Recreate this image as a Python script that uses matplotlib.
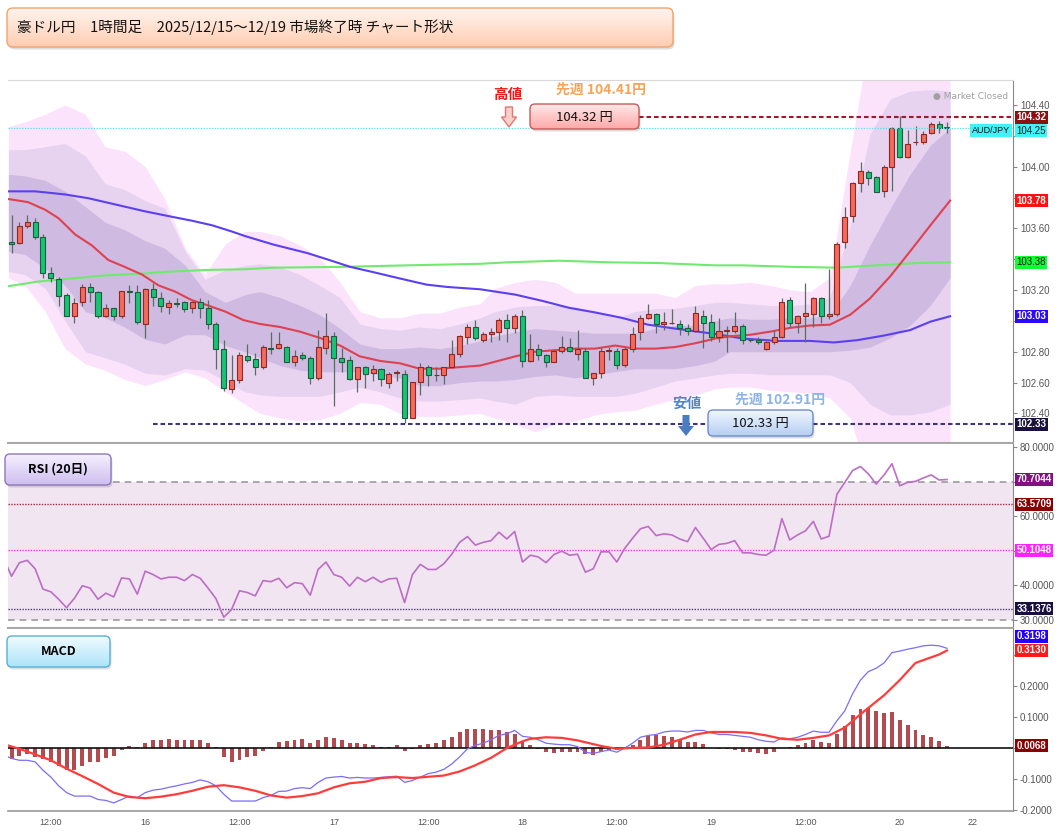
import numpy as np
import matplotlib
matplotlib.use("Agg")
import matplotlib.pyplot as plt
import matplotlib.transforms as mtransforms
from matplotlib.patches import FancyBboxPatch, Polygon
from matplotlib.colors import LinearSegmentedColormap

plt.rcParams["font.family"] = ["Noto Sans CJK JP", "DejaVu Sans"]

W, H = 1061, 831
TITLE = "豪ドル円　1時間足　2025/12/15～12/19 市場終了時 チャート形状"

# hourly candles 12/15 07:00 -> 12/20 06:00, x = candle index 0..119
opens = [103.514, 103.507, 103.615, 103.639, 103.546, 103.313, 103.272, 103.168, 103.034, 103.125,
         103.218, 103.190, 103.034, 103.086, 103.034, 103.190, 103.185, 102.982, 103.207, 103.146,
         103.092, 103.114, 103.125, 103.086, 103.125, 103.086, 102.978, 102.816, 102.558, 102.617,
         102.774, 102.753, 102.703, 102.822, 102.822, 102.833, 102.736, 102.779, 102.762, 102.632,
         102.822, 102.902, 102.762, 102.744, 102.623, 102.703, 102.664, 102.686, 102.595, 102.664,
         102.658, 102.373, 102.606, 102.703, 102.649, 102.649, 102.703, 102.783, 102.898, 102.963,
         102.876, 102.913, 102.926, 103.006, 102.952, 103.032, 102.740, 102.816, 102.779, 102.736,
         102.805, 102.833, 102.783, 102.805, 102.632, 102.660, 102.805, 102.805, 102.714, 102.816,
         102.926, 103.017, 103.043, 102.978, 102.984, 102.980, 102.952, 102.937, 103.032, 102.995,
         102.898, 102.937, 102.937, 102.967, 102.876, 102.874, 102.818, 102.861, 102.898, 103.135,
         102.984, 103.032, 103.043, 103.146, 103.032, 103.043, 103.510, 103.683, 103.892, 103.963,
         103.931, 103.842, 104.000, 104.253, 104.065, 104.158, 104.158, 104.216, 104.275, 104.253]
highs = [103.687, 103.643, 103.687, 103.665, 103.564, 103.352, 103.287, 103.179, 103.146, 103.237,
         103.244, 103.194, 103.107, 103.086, 103.194, 103.233, 103.233, 103.215, 103.244, 103.185,
         103.135, 103.146, 103.129, 103.129, 103.146, 103.135, 102.990, 102.876, 102.779, 102.800,
         102.848, 102.790, 102.844, 102.926, 102.926, 102.840, 102.811, 102.800, 102.774, 102.941,
         103.049, 102.926, 102.822, 102.774, 102.703, 102.710, 102.714, 102.692, 102.666, 102.680,
         102.682, 102.606, 102.725, 102.714, 102.703, 102.703, 102.876, 102.908, 102.978, 103.006,
         102.930, 102.956, 103.017, 103.043, 103.043, 103.071, 102.913, 102.848, 102.783, 102.811,
         102.904, 102.891, 102.941, 102.822, 102.664, 102.833, 102.833, 102.822, 102.833, 102.963,
         103.038, 103.108, 103.049, 103.056, 103.075, 103.006, 102.978, 103.097, 103.071, 103.043,
         103.017, 102.969, 103.056, 102.978, 102.890, 102.898, 102.870, 102.941, 103.146, 103.157,
         103.038, 103.244, 103.157, 103.157, 103.337, 103.510, 103.737, 103.903, 104.028, 103.979,
         103.942, 104.011, 104.260, 104.329, 104.238, 104.266, 104.232, 104.292, 104.296, 104.290]
lows = [103.438, 103.501, 103.605, 103.529, 103.276, 103.250, 103.099, 103.032, 102.984, 103.099,
        103.120, 103.021, 103.027, 103.006, 103.021, 103.114, 102.978, 102.887, 103.099, 103.056,
        103.047, 103.092, 103.060, 103.049, 103.021, 102.945, 102.688, 102.545, 102.530, 102.600,
        102.736, 102.649, 102.688, 102.783, 102.818, 102.736, 102.710, 102.746, 102.589, 102.617,
        102.783, 102.450, 102.666, 102.617, 102.541, 102.567, 102.610, 102.580, 102.567, 102.610,
        102.336, 102.373, 102.519, 102.580, 102.610, 102.589, 102.692, 102.768, 102.852, 102.876,
        102.865, 102.861, 102.876, 102.865, 102.919, 102.703, 102.736, 102.746, 102.703, 102.731,
        102.790, 102.800, 102.746, 102.628, 102.584, 102.628, 102.746, 102.688, 102.703, 102.800,
        102.876, 103.012, 102.919, 102.941, 102.980, 102.909, 102.909, 102.930, 102.822, 102.870,
        102.865, 102.800, 102.919, 102.848, 102.865, 102.848, 102.811, 102.848, 102.891, 102.963,
        102.919, 102.865, 102.963, 102.984, 103.010, 103.034, 103.475, 103.644, 103.834, 103.881,
        103.834, 103.806, 103.842, 104.058, 104.058, 104.141, 104.145, 104.210, 104.216, 104.220]
closes = [103.497, 103.615, 103.639, 103.546, 103.308, 103.276, 103.164, 103.034, 103.114, 103.218,
          103.190, 103.034, 103.086, 103.034, 103.194, 103.188, 102.991, 103.207, 103.153, 103.097,
          103.114, 103.112, 103.075, 103.125, 103.086, 102.978, 102.816, 102.567, 102.617, 102.779,
          102.746, 102.703, 102.833, 102.820, 102.848, 102.736, 102.774, 102.762, 102.632, 102.833,
          102.902, 102.762, 102.736, 102.623, 102.703, 102.658, 102.686, 102.623, 102.658, 102.666,
          102.373, 102.606, 102.703, 102.649, 102.651, 102.703, 102.783, 102.904, 102.963, 102.887,
          102.913, 102.926, 103.006, 102.952, 103.032, 102.740, 102.816, 102.779, 102.736, 102.805,
          102.833, 102.805, 102.816, 102.632, 102.664, 102.805, 102.807, 102.714, 102.816, 102.913,
          103.017, 103.043, 102.978, 102.995, 102.986, 102.952, 102.937, 103.053, 102.984, 102.898,
          102.937, 102.939, 102.967, 102.876, 102.874, 102.861, 102.865, 102.898, 103.125, 102.984,
          103.032, 103.053, 103.146, 103.032, 103.043, 103.497, 103.676, 103.892, 103.972, 103.925,
          103.838, 104.000, 104.253, 104.065, 104.145, 104.160, 104.212, 104.275, 104.253, 104.251]

# moving averages
ma_red_x = [-0.4, 2.1, 4.3, 6.0, 8.1, 10.2, 12.3, 14.4, 16.6, 18.7, 20.8, 22.9, 25.0, 27.2, 29.5,
            31.6, 34.2, 36.7, 39.2, 41.8, 44.3, 46.9, 49.4, 51.9, 54.5, 57.0, 59.6,
            61.5, 64.1, 66.6, 69.2, 71.7, 74.2, 76.8, 79.3, 81.9, 84.4, 87.0, 89.5,
            91.4, 94.0, 96.5, 99.1, 101.6, 104.1, 106.7, 109.2, 111.8, 114.3, 116.9, 119.4]
ma_red = [103.79, 103.77, 103.72, 103.665, 103.56, 103.49, 103.395, 103.35, 103.30, 103.23, 103.19,
          103.135, 103.10, 103.06, 103.005,
          102.98, 102.96, 102.93, 102.89, 102.84, 102.77, 102.74, 102.725, 102.69, 102.69, 102.70, 102.71,
          102.735, 102.77, 102.80, 102.81, 102.82, 102.82, 102.84, 102.82, 102.82, 102.83, 102.855, 102.885,
          102.90, 102.91, 102.93, 102.955, 102.97, 102.975, 103.04, 103.145, 103.29, 103.45, 103.62, 103.78]
ma_blue_x = [-0.4, 3.0, 6.8, 9.8, 13.2, 17.0, 20.4, 22.9, 25.5, 28.0, 29.7,
             33.3, 37.6, 40.1, 43.1, 46.1, 49.4, 52.8, 55.4, 59.6,
             64.1, 67.5, 70.9, 74.2, 77.6, 81.0, 84.4, 89.5,
             93.1, 97.4, 101.6, 104.6, 107.6, 111.0, 114.3, 116.9, 119.4]
ma_blue = [103.84, 103.84, 103.82, 103.795, 103.755, 103.71, 103.675, 103.65, 103.62, 103.58, 103.55,
           103.495, 103.44, 103.40, 103.35, 103.315, 103.275, 103.235, 103.22, 103.205,
           103.17, 103.13, 103.085, 103.055, 103.02, 102.975, 102.95, 102.915,
           102.885, 102.87, 102.87, 102.86, 102.875, 102.905, 102.94, 102.995, 103.03]
ma_green_x = [-0.4, 3.4, 7.7, 12.0, 16.2, 20.4, 24.7, 29.8, 33.3, 41.8, 50.3, 59.6,
              63.2, 69.6, 75.9, 82.3, 89.5, 93.1, 99.5, 105.0, 110.1, 115.2, 119.4]
ma_green = [103.225, 103.255, 103.275, 103.295, 103.305, 103.32, 103.33, 103.335, 103.345, 103.35,
            103.36, 103.37, 103.38, 103.39, 103.38, 103.375, 103.36, 103.36, 103.35, 103.345,
            103.36, 103.375, 103.38]

# bollinger layers (inner / middle / outer edges)
bb_x = [-0.4, 1.7, 4.3, 6.8, 9.4, 11.9, 14.4, 17.0, 19.5, 22.1, 24.6, 27.2, 29.7,
        31.6, 34.2, 36.7, 39.2, 41.8, 44.3, 46.9, 49.4, 51.9, 54.5, 57.0, 59.6,
        61.5, 64.1, 66.6, 69.2, 71.7, 74.2, 76.8, 79.3, 81.9, 84.4, 87.0, 89.5,
        91.4, 94.0, 96.5, 99.1, 101.6, 104.1, 106.7, 109.2, 111.8, 114.3, 116.9, 119.4]
bb3_hi = [104.26, 104.29, 104.34, 104.40, 104.34, 104.13, 104.10, 104.00, 103.79, 103.47, 103.30, 103.50, 103.58,
          103.58, 103.55, 103.49, 103.41, 103.25, 103.06, 103.02, 103.02, 103.05, 103.05, 103.09, 103.11,
          103.21, 103.25, 103.27, 103.25, 103.18, 103.18, 103.18, 103.18, 103.18, 103.15, 103.23, 103.24,
          103.24, 103.25, 103.23, 103.20, 103.19, 103.28, 104.10, 104.85, 105.18, 105.39, 105.50, 105.61]
bb2_hi = [104.11, 104.11, 104.13, 104.15, 104.07, 103.89, 103.85, 103.78, 103.73, 103.45, 103.27, 103.33, 103.36,
          103.37, 103.35, 103.30, 103.23, 103.15, 102.98, 102.95, 102.94, 102.96, 102.95, 102.98, 103.02,
          103.06, 103.09, 103.10, 103.10, 103.09, 103.06, 103.02, 103.06, 103.08, 103.08, 103.10, 103.12,
          103.12, 103.11, 103.10, 103.10, 103.11, 103.15, 103.62, 104.21, 104.44, 104.49, 104.50, 104.49]
bb1_hi = [103.95, 103.94, 103.91, 103.84, 103.74, 103.64, 103.59, 103.52, 103.47, 103.36, 103.19, 103.12, 103.17,
          103.19, 103.15, 103.10, 103.04, 102.95, 102.85, 102.82, 102.82, 102.83, 102.82, 102.84, 102.87,
          102.90, 102.93, 102.95, 102.94, 102.93, 102.92, 102.92, 102.92, 102.95, 102.97, 102.97, 103.00,
          103.02, 103.01, 103.01, 103.02, 103.02, 103.04, 103.23, 103.49, 103.73, 103.95, 104.14, 104.25]
bb1_lo = [103.45, 103.43, 103.34, 103.23, 103.06, 103.02, 102.96, 102.88, 102.85, 102.91, 102.91, 102.84, 102.80,
          102.76, 102.71, 102.68, 102.67, 102.67, 102.67, 102.65, 102.63, 102.58, 102.58, 102.60, 102.61,
          102.61, 102.62, 102.64, 102.65, 102.63, 102.65, 102.67, 102.69, 102.69, 102.69, 102.71, 102.74,
          102.80, 102.80, 102.80, 102.80, 102.80, 102.80, 102.81, 102.83, 102.89, 102.97, 103.10, 103.28]
bb2_lo = [103.32, 103.30, 103.21, 103.00, 102.80, 102.76, 102.72, 102.66, 102.65, 102.69, 102.68, 102.61, 102.54,
          102.52, 102.51, 102.51, 102.51, 102.54, 102.57, 102.54, 102.50, 102.48, 102.48, 102.49, 102.50,
          102.48, 102.46, 102.51, 102.52, 102.51, 102.51, 102.51, 102.53, 102.57, 102.61, 102.63, 102.65,
          102.66, 102.66, 102.65, 102.65, 102.65, 102.65, 102.60, 102.46, 102.39, 102.39, 102.41, 102.46]
bb3_lo = [103.28, 103.23, 103.06, 102.82, 102.72, 102.68, 102.62, 102.58, 102.62, 102.67, 102.63, 102.54, 102.46,
          102.40, 102.37, 102.35, 102.36, 102.40, 102.47, 102.46, 102.40, 102.38, 102.38, 102.39, 102.40,
          102.37, 102.33, 102.28, 102.33, 102.35, 102.39, 102.41, 102.42, 102.46, 102.49, 102.52, 102.56,
          102.57, 102.57, 102.55, 102.54, 102.53, 102.50, 102.37, 101.94, 101.72, 101.72, 101.72, 101.72]

# RSI(20), index -1..119
rsi = [47.84, 42.62, 46.56, 47.24, 44.79, 38.89, 38.10, 35.94, 33.48, 36.23, 39.87,
       39.18, 35.94, 37.71, 36.63, 42.13, 41.84, 37.41, 44.10, 43.12, 41.84,
       42.33, 42.33, 41.35, 43.12, 42.04, 39.18, 36.14, 30.73, 33.00, 38.40,
       37.90, 36.92, 41.35, 41.05, 42.04, 39.28, 40.76, 40.46, 37.12, 44.59,
       46.75, 43.12, 42.33, 39.77, 42.33, 41.05, 42.33, 40.85, 41.84, 42.04,
       34.96, 43.12, 46.07, 44.59, 44.59, 46.26, 49.02, 52.46, 54.13, 51.67,
       52.46, 52.95, 55.41, 53.44, 55.60, 46.75, 48.72, 48.23, 46.56, 48.92,
       49.90, 48.72, 49.02, 43.80, 44.79, 49.71, 49.71, 46.75, 50.69, 53.64,
       56.39, 57.08, 54.42, 54.92, 54.62, 53.44, 52.65, 56.78, 53.64, 50.39,
       51.87, 52.16, 52.95, 49.41, 49.41, 48.92, 48.72, 50.20, 59.34, 53.15,
       54.62, 55.80, 58.55, 53.44, 54.23, 66.42, 69.86, 73.30, 74.48, 72.32,
       69.37, 72.03, 75.27, 68.88, 69.86, 70.16, 71.14, 72.03, 70.55, 70.70]
rsi_levels = [70.7044, 63.5709, 50.1048, 33.1376]

# MACD line, index -1..119
macd = [-0.023, -0.034, -0.040, -0.040, -0.045, -0.072, -0.094, -0.122, -0.144, -0.155, -0.155,
        -0.155, -0.166, -0.169, -0.177, -0.166, -0.155, -0.160, -0.144, -0.136, -0.133,
        -0.127, -0.122, -0.116, -0.111, -0.103, -0.109, -0.122, -0.149, -0.171, -0.171,
        -0.171, -0.171, -0.160, -0.153, -0.140, -0.139, -0.131, -0.128, -0.131, -0.111,
        -0.097, -0.094, -0.092, -0.097, -0.095, -0.097, -0.097, -0.095, -0.093, -0.091,
        -0.111, -0.105, -0.094, -0.083, -0.078, -0.069, -0.052, -0.029, -0.003, 0.008,
        0.015, 0.026, 0.040, 0.045, 0.056, 0.037, 0.034, 0.026, 0.015, 0.012,
        0.010, 0.010, 0.004, -0.014, -0.018, -0.012, -0.007, -0.014, -0.001, 0.015,
        0.034, 0.040, 0.043, 0.051, 0.054, 0.054, 0.051, 0.056, 0.056, 0.048,
        0.043, 0.043, 0.040, 0.037, 0.034, 0.026, 0.021, 0.019, 0.032, 0.029,
        0.034, 0.043, 0.054, 0.050, 0.050, 0.087, 0.119, 0.174, 0.218, 0.245,
        0.256, 0.273, 0.306, 0.311, 0.317, 0.322, 0.328, 0.330, 0.328, 0.320]
sig_x = [-0.5, 1, 3, 5, 7, 9, 11, 13, 15, 17, 19, 21, 23, 25, 27, 29, 31, 33, 35, 37, 39, 41, 43,
         45, 47, 49, 51, 53, 55, 57, 59, 61, 63, 65, 66, 68, 70, 72, 75, 77, 79, 81, 83, 85, 87,
         89, 92, 94, 96, 98, 100, 102, 104, 106, 108, 111, 113, 115, 118, 119]
signal = [0.008, -0.003, -0.021, -0.040, -0.067, -0.091, -0.116, -0.144, -0.158, -0.162, -0.157,
          -0.149, -0.138, -0.125, -0.120, -0.127, -0.138, -0.153, -0.160, -0.155, -0.146, -0.127,
          -0.114, -0.109, -0.097, -0.094, -0.097, -0.093, -0.089, -0.076, -0.056, -0.032, -0.001,
          0.021, 0.029, 0.034, 0.032, 0.024, 0.006, -0.003, 0.000, 0.001, 0.010, 0.026, 0.043,
          0.051, 0.051, 0.048, 0.040, 0.029, 0.026, 0.032, 0.040, 0.065, 0.108, 0.169, 0.218,
          0.273, 0.300, 0.313]
hist = [-0.037, -0.026, -0.021, -0.029, -0.037, -0.047, -0.058, -0.072, -0.072, -0.059,
        -0.047, -0.045, -0.034, -0.026, -0.008, 0.006, 0.004, 0.017, 0.024, 0.024,
        0.027, 0.026, 0.024, 0.024, 0.024, 0.015, 0.002, -0.031, -0.045, -0.039,
        -0.031, -0.026, -0.010, 0.004, 0.019, 0.022, 0.024, 0.027, 0.015, 0.024,
        0.036, 0.031, 0.026, 0.015, 0.015, 0.012, 0.010, 0.004, 0.004, 0.008,
        -0.010, -0.004, 0.008, 0.012, 0.015, 0.024, 0.034, 0.051, 0.062, 0.062,
        0.059, 0.057, 0.057, 0.051, 0.045, 0.023, 0.008, -0.003, -0.014, -0.018,
        -0.014, -0.014, -0.012, -0.021, -0.023, -0.014, -0.007, -0.007, -0.003, 0.008,
        0.025, 0.038, 0.040, 0.038, 0.034, 0.026, 0.019, 0.019, 0.012, 0.001,
        -0.003, -0.005, -0.007, -0.012, -0.014, -0.018, -0.021, -0.014, 0.000, 0.004,
        0.010, 0.015, 0.025, 0.019, 0.015, 0.043, 0.070, 0.105, 0.125, 0.128,
        0.117, 0.111, 0.114, 0.090, 0.073, 0.057, 0.040, 0.034, 0.021, 0.007]

tick_idx = [5, 17, 29, 41, 53, 65, 77, 89, 101, 113, 122.3]
tick_lbl = ["12:00", "16", "12:00", "17", "12:00", "18", "12:00", "19", "12:00", "20", "22"]

high_val, low_val, last_val = 104.32, 102.33, 104.25

fig = plt.figure(figsize=(W / 100, H / 100), dpi=100)


def frac(x0, y0, x1, y1):
    return [x0 / W, 1 - y1 / H, (x1 - x0) / W, (y1 - y0) / H]


ax = fig.add_axes(frac(8, 80, 1013, 443))
ax_rsi = fig.add_axes(frac(8, 444, 1013, 628))
ax_macd = fig.add_axes(frac(8, 629, 1013, 811))
XL = (-0.45, 127.4)
NUM = "Liberation Sans"

for a in (ax, ax_rsi, ax_macd):
    a.set_xlim(*XL)
    a.spines["left"].set_visible(False)
    a.spines["right"].set_color("#888888")
    a.yaxis.tick_right()
    a.tick_params(axis="y", length=3, width=0.8, color="#888888", pad=2)
    a.tick_params(axis="x", length=0)
ax.spines["top"].set_color("#d8d8d8")
ax.spines["bottom"].set_color("#a8a8a8")
ax.spines["bottom"].set_linewidth(1.5)
ax_rsi.spines["top"].set_visible(False)
ax_rsi.spines["bottom"].set_color("#a8a8a8")
ax_rsi.spines["bottom"].set_linewidth(1.5)
ax_macd.spines["top"].set_visible(False)
ax_macd.spines["bottom"].set_color("#999999")
ax_macd.spines["bottom"].set_linewidth(1.2)
ax.set_xticks([])
ax_rsi.set_xticks([])


def tick_text(vals, fmt, hidden):
    # the value tags sit on top of these tick labels in the reference
    return ["" if any(abs(v - h) < 1e-9 for h in hidden) else fmt.format(v) for v in vals]


# ---- price panel
ax.set_ylim(102.208, 104.562)
pt = np.round(np.arange(102.4, 104.41, 0.2), 2)
ax.set_yticks(pt, labels=tick_text(pt, "{:.2f}", [103.0, 103.4, 103.8, 104.2]),
              fontsize=7, color="#555555", fontfamily=NUM)

ax.fill_between(bb_x, bb3_lo, bb3_hi, color="#fce3fc", lw=0, zorder=1)
ax.fill_between(bb_x, bb2_lo, bb2_hi, color="#e7d2f0", lw=0, zorder=1.1)
ax.fill_between(bb_x, bb1_lo, bb1_hi, color="#cfbae2", lw=0, zorder=1.2)

ax.plot(ma_green_x, ma_green, color="#6fea6f", lw=1.5, zorder=3)
ax.plot(ma_blue_x, ma_blue, color="#5b3ff2", lw=1.5, zorder=3)
ax.plot(ma_red_x, ma_red, color="#e0414f", lw=1.5, zorder=3)

idx = np.arange(len(opens))
o, c = np.array(opens), np.array(closes)
hi, lo = np.array(highs), np.array(lows)
up = c >= o
body_lo = np.minimum(o, c)
body_h = np.maximum(np.abs(c - o), 0.003)
ax.vlines(idx, lo, hi, color="#5a6b60", lw=0.9, zorder=4)
ax.bar(idx[up], body_h[up], bottom=body_lo[up], width=0.64, color="#f56a5c",
       edgecolor="#8c2a22", lw=0.8, zorder=5)
ax.bar(idx[~up], body_h[~up], bottom=body_lo[~up], width=0.64, color="#17c476",
       edgecolor="#1c5e3c", lw=0.8, zorder=5)

ax.hlines(last_val, XL[0], XL[1], colors="#4fe3f0", linestyles=(0, (1, 1.2)), lw=0.9, zorder=6)
ax.hlines(high_val, 79.8, XL[1], colors="#a3182c", linestyles=(0, (2.2, 1.4)), lw=1.5, zorder=6)
ax.hlines(low_val, 18.0, XL[1], colors="#3e3678", linestyles=(0, (2.2, 1.4)), lw=1.5, zorder=6)


def tag(axis, val, text, fc, tc="white", dy=0.0, fw="bold"):
    tr = mtransforms.blended_transform_factory(axis.transAxes, axis.transData)
    axis.annotate(text, xy=(1, val), xycoords=tr, xytext=(2.5, dy), textcoords="offset points",
                  ha="left", va="center", fontsize=7, color=tc, fontweight=fw, fontfamily=NUM,
                  bbox=dict(boxstyle="square,pad=0.15", fc=fc, ec="none"),
                  annotation_clip=False, zorder=20)


tag(ax, high_val, "104.32", "#8b1212")
tag(ax, last_val, "104.25", "#3ef4f7", tc="#1a1a1a", dy=-2, fw="normal")
tag(ax, ma_red[-1], "103.78", "#ff1010")
tag(ax, ma_green[-1], "103.38", "#10ff30", tc="#111111", fw="normal")
tag(ax, ma_blue[-1], "103.03", "#2a0aff")
tag(ax, low_val, "102.33", "#1b1140")
tr_main = mtransforms.blended_transform_factory(ax.transAxes, ax.transData)
ax.annotate("AUD/JPY", xy=(1, last_val), xycoords=tr_main, xytext=(-2, -1.5),
            textcoords="offset points", ha="right", va="center", fontsize=6.5,
            fontfamily=NUM, color="#111111",
            bbox=dict(boxstyle="square,pad=0.2", fc="#3ef4f7", ec="none"), zorder=20)

# ---- RSI panel
ax_rsi.set_ylim(27.6, 81.0)
rt = [30, 40, 50, 60, 70, 80]
ax_rsi.set_yticks(rt, labels=tick_text(rt, "{:.4f}", [50, 70]),
                  fontsize=7, color="#555555", fontfamily=NUM)
ax_rsi.axhspan(30, 70, color="#f2e5f2", lw=0, zorder=0)
for lvl in (70, 30):
    ax_rsi.axhline(lvl, color="#9b9b9b", ls=(0, (4, 3)), lw=1.2, zorder=1)
ax_rsi.axhline(rsi_levels[1], color="#a52a3a", ls=(0, (1, 1)), lw=1.0, zorder=1)
ax_rsi.axhline(rsi_levels[2], color="#ff30ff", ls=(0, (1, 1)), lw=1.0, zorder=1)
ax_rsi.axhline(rsi_levels[3], color="#4d3b7a", ls=(0, (1, 1)), lw=1.0, zorder=1)
ax_rsi.plot(np.arange(-1, 120), rsi, color="#bb6ec4", lw=1.2, zorder=3)
tag(ax_rsi, rsi_levels[0], "70.7044", "#82107f")
tag(ax_rsi, rsi_levels[1], "63.5709", "#8b0000")
tag(ax_rsi, rsi_levels[2], "50.1048", "#ff22ff")
tag(ax_rsi, rsi_levels[3], "33.1376", "#1a1040")

# ---- MACD panel
ax_macd.set_ylim(-0.203, 0.382)
mt = [-0.2, -0.1, 0.0, 0.1, 0.2, 0.3]
ax_macd.set_yticks(mt, labels=tick_text(mt, "{:.4f}", [0.0, 0.3]),
                   fontsize=7, color="#555555", fontfamily=NUM)
ax_macd.bar(idx, hist, width=0.5, color="#b34a4f", lw=0, zorder=2)
ax_macd.axhline(0, color="#111111", lw=1.2, zorder=3)
ax_macd.plot(np.arange(-1, 120), macd, color="#7b6cff", lw=0.9, zorder=4)
ax_macd.plot(sig_x, signal, color="#ff3c3c", lw=1.6, zorder=4)
tag(ax_macd, macd[-1], "0.3198", "#2200ff", dy=8.6)
tag(ax_macd, signal[-1], "0.3130", "#ff1a1a")
tag(ax_macd, hist[-1], "0.0068", "#8b0000")
ax_macd.set_xticks(tick_idx, labels=tick_lbl, fontsize=6.5, color="#555555", fontfamily=NUM)
ax_macd.tick_params(axis="x", pad=5)

# ---- overlay for boxes and notes (pixel coordinates)
ov = fig.add_axes([0, 0, 1, 1], zorder=30)
ov.set_axis_off()
ov.patch.set_alpha(0)


def grad_box(x, y, w, h, top, bottom, edge, r=5, lw=1.0):
    style = f"round,pad=0,rounding_size={r}"
    ov.add_patch(FancyBboxPatch((x + 1.5, y + 2.5), w, h, boxstyle=style,
                                fc=(0, 0, 0, 0.13), ec="none", zorder=1))
    box = FancyBboxPatch((x, y), w, h, boxstyle=style, fc="none", ec=edge, lw=lw, zorder=3)
    ov.add_patch(box)
    cmap = LinearSegmentedColormap.from_list("g", [top, bottom])
    im = ov.imshow(np.linspace(0, 1, 50)[:, None], extent=(x, x + w, y + h, y), cmap=cmap,
                   aspect="auto", zorder=2, interpolation="bilinear")
    im.set_clip_path(box)


grad_box(7, 8, 666, 39, "#fff4ee", "#ffcdb2", "#f3a266", r=6)
ov.text(17, 27.5, TITLE, fontsize=10.5, va="center", ha="left", color="#111111", zorder=5)

grad_box(5, 454, 106, 31, "#f6f0ff", "#cfbeef", "#8c78b8", r=5)
ov.text(58, 469.5, "RSI (20日)", fontsize=9, fontweight="bold", ha="center", va="center", zorder=5)
grad_box(7, 636, 103, 31, "#f0fbff", "#aee4fa", "#58b0d6", r=5)
ov.text(58.5, 651.5, "MACD", fontsize=9, fontweight="bold", ha="center", va="center", zorder=5)

# high note
ov.text(508, 94, "高値", color="#ee1818", fontsize=10.5, fontweight="bold", ha="center", va="center", zorder=5)
cx = 509
ov.add_patch(Polygon([(cx - 3.5, 107), (cx + 3.5, 107), (cx + 3.5, 117), (cx + 7.5, 117), (cx, 127),
                      (cx - 7.5, 117), (cx - 3.5, 117)], closed=True, fc="#fbd0cc", ec="#e0786e",
                     lw=1, zorder=5))
ov.text(601, 90, "先週 104.41円", color="#f7a457", fontsize=10, fontweight="bold", ha="center",
        va="center", zorder=5)
grad_box(530, 104, 109, 25, "#ffe8e8", "#ffa8a8", "#c85a5a", r=5)
ov.text(584, 117, "104.32 円", fontsize=9.5, ha="center", va="center", color="#111111", zorder=5)

# low note
ov.text(687, 403, "安値", color="#4f86c6", fontsize=10.5, fontweight="bold", ha="center", va="center", zorder=5)
cx = 686
ov.add_patch(Polygon([(cx - 3.5, 415), (cx + 3.5, 415), (cx + 3.5, 426), (cx + 8, 426), (cx, 436),
                      (cx - 8, 426), (cx - 3.5, 426)], closed=True, fc="#4a7cc0", ec="none", zorder=5))
ov.text(780, 400, "先週 102.91円", color="#8db4e6", fontsize=10, fontweight="bold", ha="center",
        va="center", zorder=5)
grad_box(708, 410, 105, 26, "#f0f6ff", "#b6cff2", "#6d8ccc", r=5)
ov.text(760, 423, "102.33 円", fontsize=9.5, ha="center", va="center", color="#111111", zorder=5)

ov.text(1008, 96, "● Market Closed", fontsize=6.5, color="#a0a0a0", ha="right", va="center",
        fontfamily="DejaVu Sans", zorder=5)

ov.set_xlim(0, W)
ov.set_ylim(H, 0)

fig.savefig("out.png", dpi=100)
plt.close(fig)
